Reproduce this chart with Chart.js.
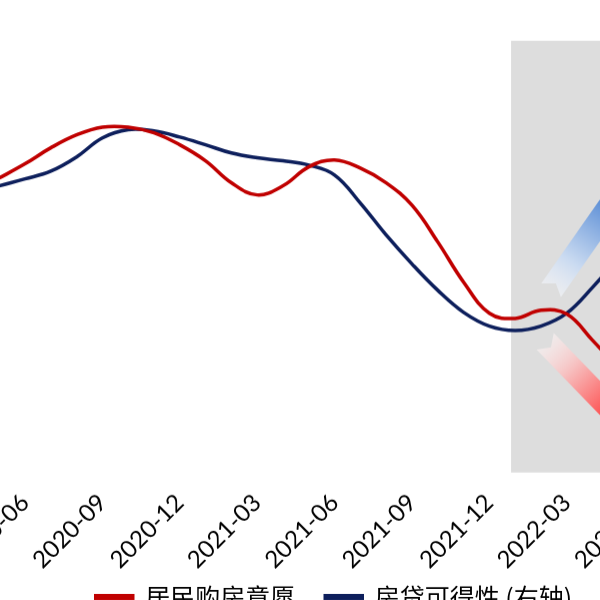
<!DOCTYPE html>
<html>
<head>
<meta charset="utf-8">
<script src="https://cdn.jsdelivr.net/npm/chart.js@4.4.1/dist/chart.umd.min.js"></script>
<style>
	html, body { margin: 0; padding: 0; width: 600px; height: 600px; overflow: hidden; background: #fff; }
	#chart { position: absolute; left: 0; top: 0; }
</style>
</head>
<body>
<canvas id="chart" width="1000" height="700"></canvas>
<script>
"use strict";

// Data (monthly, 2020-04 .. 2022-06)

var MONTHS = ["2020-04", "2020-05", "2020-06", "2020-07", "2020-08", "2020-09",
	"2020-10", "2020-11", "2020-12", "2021-01", "2021-02", "2021-03", "2021-04",
	"2021-05", "2021-06", "2021-07", "2021-08", "2021-09", "2021-10", "2021-11",
	"2021-12", "2022-01", "2022-02", "2022-03", "2022-04", "2022-05", "2022-06"];

var QUARTER_MONTHS = ["03", "06", "09", "12"];

var SERIES_NAMES = ["居民购房意愿", "房贷可得性 (右轴)"];

var PURCHASE_WILLINGNESS = [65.0, 68.2, 71.5, 75.2, 78.2, 80.0, 80.0, 78.7, 75.9,
	72.2, 67.1, 64.3, 66.4, 70.8, 72.4, 70.5, 67.1, 61.9, 53.4, 44.1, 36.9,
	35.7, 37.6, 36.7, 30.6, 24.1];

var MORTGAGE_AVAILABILITY = [64.7, 66.4, 68.0, 69.8, 73.1, 77.5, 79.4, 79.1, 77.7,
	75.9, 74.0, 72.9, 72.2, 71.2, 68.9, 62.4, 55.0, 48.3, 42.2, 37.1, 33.9,
	32.9, 33.9, 36.9, 42.9, 49.7];

// Layout targets (page pixels) used to place the cropped view

var MONTH_PX = 25.8,
	FIRST_X = -26.6,
	LEGEND_CENTER = 334,
	AREA_TOP = 41,
	AREA_HEIGHT = 431,
	LEGEND_GAP = 82;	// legend box top, below the plot area

var RED = "#c00000",
	NAVY = "#0d1f5c",
	SHADE = "#dddddd";

// shaded forecast zone starts a little after 2021-12 (index, fractional)
var SHADE_FROM = 20.84;

// decorative arrows: [tail index, tail value, tip index, tip value]
var ARROW_UP = [22.39, 42.2, 26.38, 76.3],
	ARROW_DOWN = [22.16, 30.4, 27.0, 0.5];

var leftAxisWidth = 146,
	rightAxisWidth = 184;

function drawArrow(ctx, x0, y0, x1, y1, width, stops) {
	var dx = x1 - x0, dy = y1 - y0,
		len = Math.sqrt(dx * dx + dy * dy),
		hw = width / 2, headLen = width * 1.5, headW = width * 1.1, notch = width * 0.35,
		grad;

	ctx.save();
	ctx.translate(x0, y0);
	ctx.rotate(Math.atan2(dy, dx));
	grad = ctx.createLinearGradient(0, 0, len, 0);
	stops.forEach(function (s) { grad.addColorStop(s[0], s[1]); });
	ctx.fillStyle = grad;
	ctx.beginPath();
	ctx.moveTo(0, -hw);
	ctx.lineTo(len - headLen, -hw);
	ctx.lineTo(len - headLen, -headW);
	ctx.lineTo(len, 0);
	ctx.lineTo(len - headLen, headW);
	ctx.lineTo(len - headLen, hw);
	ctx.lineTo(0, hw);
	ctx.lineTo(notch, 0);
	ctx.closePath();
	ctx.fill();
	ctx.restore();
}

var backdrop = {
	id: "backdrop",
	afterLayout: function (chart) {
		// pull the legend up under the rotated tick labels
		var h = chart.legend.bottom - chart.legend.top;
		chart.legend.top = chart.chartArea.bottom + LEGEND_GAP;
		chart.legend.bottom = chart.legend.top + h;
	},
	beforeDatasetsDraw: function (chart) {
		var ctx = chart.ctx, area = chart.chartArea,
			xs = chart.scales.x, ys = chart.scales.y,
			x0 = xs.getPixelForValue(SHADE_FROM);

		ctx.save();
		ctx.fillStyle = SHADE;
		ctx.fillRect(x0, area.top, area.right - x0, area.bottom - area.top);

		drawArrow(ctx, xs.getPixelForValue(ARROW_UP[0]), ys.getPixelForValue(ARROW_UP[1]),
			xs.getPixelForValue(ARROW_UP[2]), ys.getPixelForValue(ARROW_UP[3]), 24,
			[[0, "rgba(245,247,252,0.6)"], [0.2, "rgba(200,218,242,0.95)"],
			[0.55, "rgb(100,148,216)"], [1, "rgb(60,110,200)"]]);
		drawArrow(ctx, xs.getPixelForValue(ARROW_DOWN[0]), ys.getPixelForValue(ARROW_DOWN[1]),
			xs.getPixelForValue(ARROW_DOWN[2]), ys.getPixelForValue(ARROW_DOWN[3]), 24,
			[[0, "rgba(252,245,245,0.6)"], [0.2, "rgba(248,195,195,0.95)"],
			[0.55, "rgb(255,70,70)"], [1, "rgb(230,10,10)"]]);
		ctx.restore();
	}
};

function hiddenAxis(position, getWidth) {
	return {
		position: position,
		min: 0,
		max: 100,
		grid: { display: false, drawTicks: false },
		border: { display: false },
		ticks: { display: false },
		afterFit: function (scale) { scale.width = getWidth(); }
	};
}

var canvas = document.getElementById("chart");

var chart = new Chart(canvas, {
	type: "line",
	data: {
		labels: MONTHS,
		datasets: [{
			label: SERIES_NAMES[0],
			data: PURCHASE_WILLINGNESS,
			yAxisID: "y",
			borderColor: RED,
			backgroundColor: RED,
			borderWidth: 3.5,
			pointRadius: 0,
			tension: 0.4
		}, {
			label: SERIES_NAMES[1],
			data: MORTGAGE_AVAILABILITY,
			yAxisID: "y1",
			borderColor: NAVY,
			backgroundColor: NAVY,
			borderWidth: 3.5,
			pointRadius: 0,
			tension: 0.4
		}]
	},
	options: {
		responsive: false,
		maintainAspectRatio: false,
		animation: false,
		layout: { padding: 0 },
		plugins: {
			tooltip: { enabled: false },
			legend: {
				position: "bottom",
				labels: {
					boxWidth: 37,
					boxHeight: 3,
					padding: 30,
					color: "#000",
					font: { family: "'Noto Sans CJK SC', 'Noto Sans', sans-serif", size: 25 }
				}
			}
		},
		scales: {
			x: {
				grid: { display: false, drawTicks: false },
				border: { display: false },
				ticks: {
					autoSkip: false,
					minRotation: 45,
					maxRotation: 45,
					padding: 16,
					color: "#000",
					font: { family: "Lato, 'Liberation Sans', sans-serif", size: 24 },
					callback: function (value) {
						var label = this.getLabelForValue(value);
						return QUARTER_MONTHS.indexOf(label.slice(5)) >= 0 ? label : "";
					}
				}
			},
			y: hiddenAxis("left", function () { return leftAxisWidth; }),
			y1: hiddenAxis("right", function () { return rightAxisWidth; })
		}
	},
	plugins: [backdrop]
});

// fit the canvas so the visible crop lines up with the reference view
var last = MONTHS.length - 1;
for (var k = 0; k < 4; k++) {
	var xs = chart.scales.x, area = chart.chartArea,
		a0 = xs.getPixelForValue(0),
		span = xs.getPixelForValue(last) - a0,
		lc = (chart.legend.left + chart.legend.right) / 2,
		eSpan = last * MONTH_PX - span,
		eCenter = (LEGEND_CENTER - FIRST_X) - (lc - a0),
		eHeight = AREA_HEIGHT - (area.bottom - area.top);

	if (Math.abs(eSpan) < 0.1 && Math.abs(eCenter) < 0.1 && Math.abs(eHeight) < 0.1) {
		break;
	}
	leftAxisWidth -= eCenter;
	rightAxisWidth += eCenter - eSpan;
	chart.resize(chart.width, chart.height + eHeight);
	chart.update();
}

canvas.style.left = (FIRST_X - chart.scales.x.getPixelForValue(0)) + "px";
canvas.style.top = (AREA_TOP - chart.chartArea.top) + "px";
</script>
</body>
</html>
